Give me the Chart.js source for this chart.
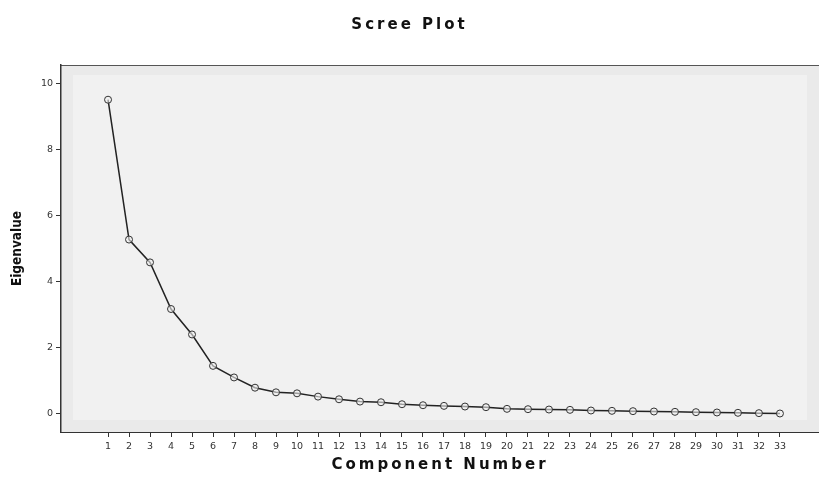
<!DOCTYPE html>
<html>
<head>
<meta charset="utf-8">
<script src="https://cdn.jsdelivr.net/npm/chart.js@4"></script>
<style>
    html, body { margin: 0; padding: 0; background: #ffffff; }
    #wrap { width: 819px; height: 480px; position: relative; }
</style>
</head>
<body>
<div id="wrap"><canvas id="screeChart"></canvas></div>
<script>
const components = [1, 2, 3, 4, 5, 6, 7, 8, 9, 10, 11, 12, 13, 14, 15, 16, 17,
    18, 19, 20, 21, 22, 23, 24, 25, 26, 27, 28, 29, 30, 31, 32, 33];
const eigenvalues = [9.5, 5.27, 4.58, 3.17, 2.4, 1.45, 1.1, 0.79, 0.65, 0.62, 0.52, 0.44, 0.37, 0.35, 0.29,
    0.26, 0.24, 0.22, 0.2, 0.15, 0.14, 0.13, 0.12, 0.1, 0.09, 0.08, 0.07, 0.06, 0.05, 0.04, 0.03, 0.02, 0.01];
const yTicks = [0, 2, 4, 6, 8, 10];

const plotBackground = {
    id: 'plotBackground',
    beforeDraw: function (chart) {
        const a = chart.chartArea;
        const ctx = chart.ctx;
        ctx.save();
        ctx.fillStyle = '#eaeaea';
        ctx.fillRect(a.left, a.top, a.right - a.left, a.bottom - a.top);
        ctx.fillStyle = '#f1f1f1';
        ctx.fillRect(a.left + 12, a.top + 10, a.right - a.left - 24, a.bottom - a.top - 22);
        ctx.strokeStyle = '#555555';
        ctx.lineWidth = 1;
        ctx.beginPath();
        ctx.moveTo(a.left, a.top + 0.5);
        ctx.lineTo(a.right, a.top + 0.5);
        ctx.stroke();
        ctx.restore();
    }
};

// spaced-out lettering for the chart title and the x axis title
function withSpacing(obj, method, spacing) {
    if (!obj || obj['_spaced_' + method]) return;
    const orig = obj[method];
    obj[method] = function () {
        const ctx = this.ctx;
        const prev = ctx.letterSpacing;
        ctx.letterSpacing = spacing;
        const r = orig.apply(this, arguments);
        ctx.letterSpacing = prev;
        return r;
    };
    obj['_spaced_' + method] = true;
}

const letterSpacer = {
    id: 'letterSpacer',
    afterLayout: function (chart) {
        withSpacing(chart.titleBlock, 'draw', '3px');
        withSpacing(chart.scales.x, 'drawTitle', '3px');
    }
};

const points = components.map(function (c, i) {
    return { x: c, y: eigenvalues[i] };
});

new Chart(document.getElementById('screeChart').getContext('2d'), {
    type: 'line',
    data: {
        datasets: [{
            data: points,
            borderColor: '#222222',
            borderWidth: 1.5,
            tension: 0,
            fill: false,
            pointStyle: 'circle',
            pointRadius: 3.5,
            pointBorderColor: '#333333',
            pointBorderWidth: 1,
            pointBackgroundColor: 'rgba(240,240,240,0.6)'
        }]
    },
    options: {
        responsive: true,
        maintainAspectRatio: false,
        animation: false,
        layout: { padding: 0, autoPadding: false },
        plugins: {
            legend: { display: false },
            tooltip: { enabled: false },
            title: {
                display: true,
                text: 'Scree Plot',
                color: '#111111',
                font: { family: 'DejaVu Sans', size: 15, weight: 'bold' },
                padding: { top: 16, bottom: 31 }
            }
        },
        scales: {
            x: {
                type: 'linear',
                min: -1.24,
                max: 34.86,
                afterBuildTicks: function (scale) {
                    scale.ticks = components.map(function (v) { return { value: v }; });
                },
                afterFit: function (scale) {
                    scale.height = 48;
                    scale.paddingLeft = 0;
                    scale.paddingRight = 0;
                },
                grid: { drawOnChartArea: false, drawTicks: true, tickLength: 5, color: '#333333' },
                border: { display: true, color: '#333333', width: 1 },
                ticks: {
                    color: '#333333',
                    padding: 4,
                    maxRotation: 0,
                    autoSkip: false,
                    font: { family: 'DejaVu Sans', size: 9.5 }
                },
                title: {
                    display: true,
                    text: 'Component Number',
                    color: '#111111',
                    font: { family: 'DejaVu Sans', size: 15, weight: 'bold' },
                    padding: { top: 0, bottom: 6 }
                }
            },
            y: {
                type: 'linear',
                min: -0.55,
                max: 10.55,
                afterBuildTicks: function (scale) {
                    scale.ticks = yTicks.map(function (v) { return { value: v }; });
                },
                afterFit: function (scale) { scale.width = 61; },
                grid: { drawOnChartArea: false, drawTicks: true, tickLength: 5, color: '#333333' },
                border: { display: true, color: '#333333', width: 1.5 },
                ticks: {
                    color: '#333333',
                    padding: 3,
                    font: { family: 'DejaVu Sans', size: 9.5 }
                },
                title: {
                    display: true,
                    text: 'Eigenvalue',
                    color: '#111111',
                    font: { family: "'DejaVu Sans Condensed', 'Liberation Sans', sans-serif", size: 13.5, weight: 'bold' },
                    padding: { top: 9, bottom: 0 }
                }
            }
        }
    },
    plugins: [plotBackground, letterSpacer]
});
</script>
</body>
</html>
